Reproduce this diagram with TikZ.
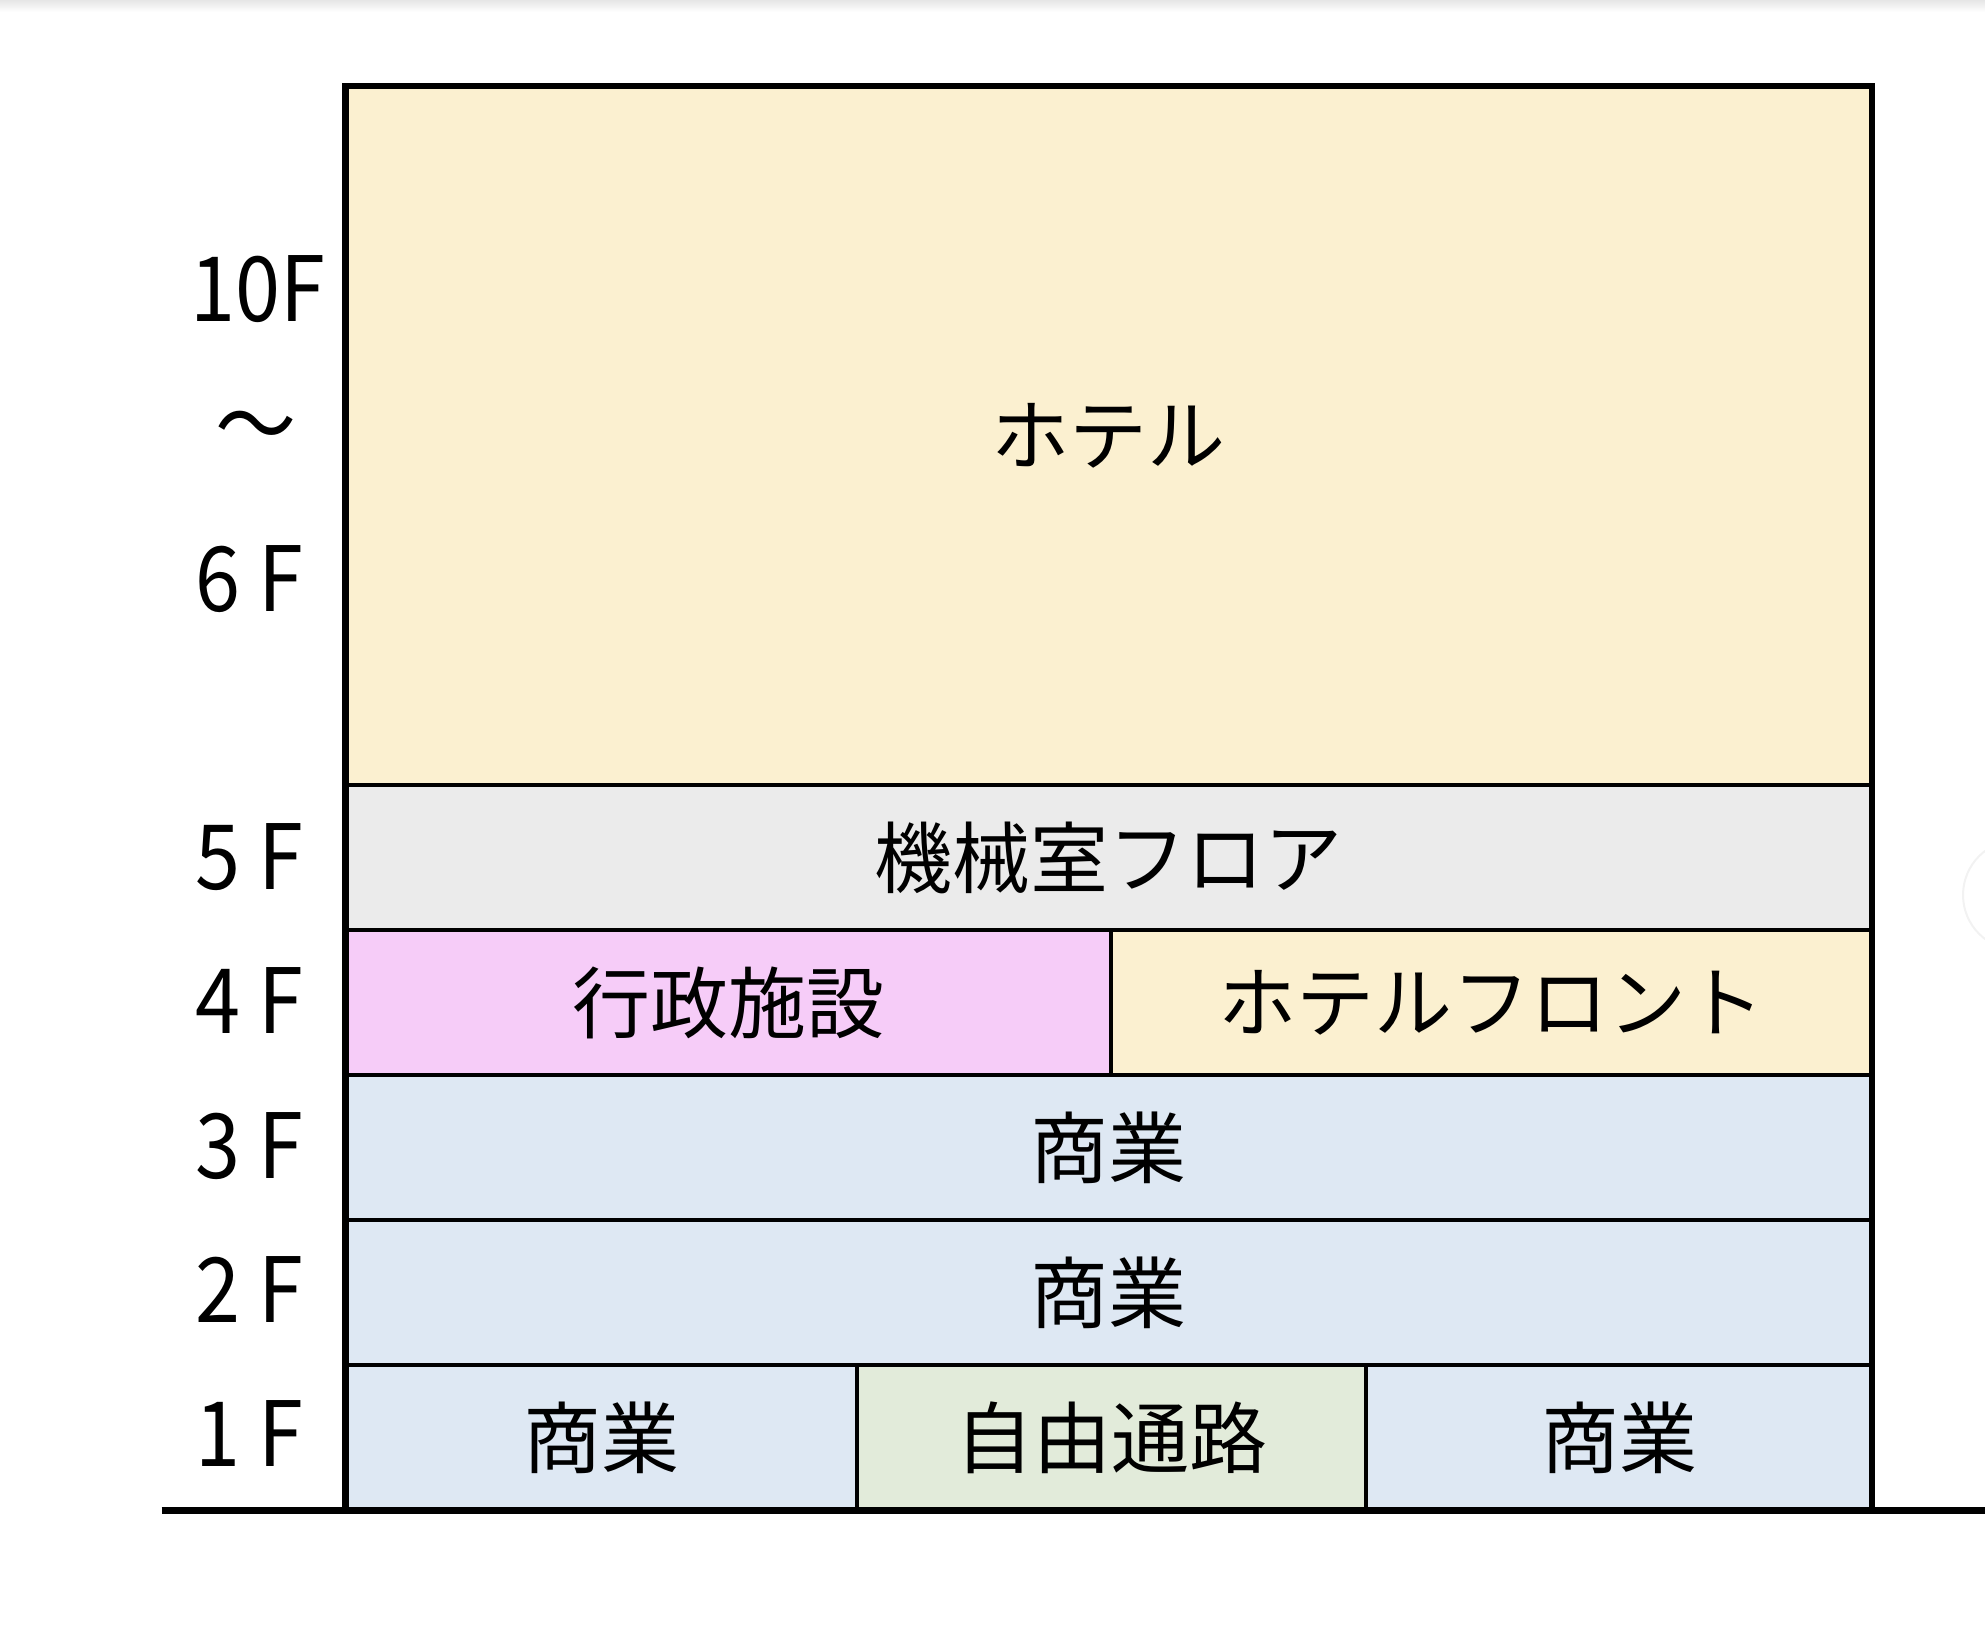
\documentclass[tikz,border=0pt]{standalone}
\usepackage{fontspec}
\setmainfont{Noto Sans CJK JP}
\definecolor{hotelcol}{HTML}{FBF0D0}
\definecolor{machcol}{HTML}{EBEBEB}
\definecolor{govcol}{HTML}{F6CCF8}
\definecolor{shopcol}{HTML}{DEE8F3}
\definecolor{passcol}{HTML}{E2EBDA}
\begin{document}
\begin{tikzpicture}[x=1bp,y=1bp,line join=miter,
  room/.style={draw=black,line width=1.75bp,rectangle,inner sep=0pt,outer sep=0pt,
    anchor=south west,font=\fontsize{39bp}{44bp}\selectfont},
  floorlabel/.style={anchor=west,inner sep=0pt,xscale=0.9,transform shape,
    font=\fontsize{45bp}{50bp}\selectfont}]
  \useasboundingbox (0bp,0bp) rectangle (992.5bp,821.5bp);
%%
  % top edge shadow
  \shade [top color=black!10,bottom color=white] (0bp,815.5bp) rectangle (992.5bp,821.5bp);
  \draw [black!5,line width=1bp] (1009bp,374bp) circle (27.5bp);
  % Node: hotel
  \node [room,fill=hotelcol,minimum width=763.2bp,minimum height=349.5bp] (hotel) at (172.8bp,429bp) {ホテル};
  % Node: mach
  \node [room,fill=machcol,minimum width=763.2bp,minimum height=72.5bp] (mach) at (172.8bp,356.5bp) {機械室フロア};
  % Node: gov
  \node [room,fill=govcol,minimum width=382.7bp,minimum height=72.5bp] (gov) at (172.8bp,284bp) {行政施設};
  % Node: front
  \node [room,fill=hotelcol,minimum width=380.5bp,minimum height=72.5bp] (front) at (555.5bp,284bp) {ホテルフロント};
  % Node: shop3
  \node [room,fill=shopcol,minimum width=763.2bp,minimum height=72.5bp] (shop3) at (172.8bp,211.5bp) {商業};
  % Node: shop2
  \node [room,fill=shopcol,minimum width=763.2bp,minimum height=72.5bp] (shop2) at (172.8bp,139bp) {商業};
  % Node: shop1w
  \node [room,fill=shopcol,minimum width=255.7bp,minimum height=72.5bp] (shop1w) at (172.8bp,66.5bp) {商業};
  % Node: passage
  \node [room,fill=passcol,minimum width=254.5bp,minimum height=72.5bp] (passage) at (428.5bp,66.5bp) {自由通路};
  % Node: shop1e
  \node [room,fill=shopcol,minimum width=253bp,minimum height=72.5bp] (shop1e) at (683bp,66.5bp) {商業};
  % outer frame and ground
  \draw [line width=3.25bp] (shop1w.south west) -- (hotel.north west) -- (hotel.north east) -- (shop1e.south east);
  \draw [line width=3.5bp] (80.75bp,66bp) -- (992.5bp,66bp);
  % floor labels
  \node [floorlabel] (f10) at (95bp,677bp) {10F};
  \node [floorlabel,anchor=center] (fwave) at (128bp,604.5bp) {〜};
  \node [floorlabel] (f6) at (97.5bp,532bp) {6\hspace{.22em}F};
  \node [floorlabel] (f5) at (97.5bp,393bp) {5\hspace{.22em}F};
  \node [floorlabel] (f4) at (97.5bp,321bp) {4\hspace{.22em}F};
  \node [floorlabel] (f3) at (97.5bp,248.5bp) {3\hspace{.22em}F};
  \node [floorlabel] (f2) at (97.5bp,176.5bp) {2\hspace{.22em}F};
  \node [floorlabel] (f1) at (97.5bp,104.5bp) {1\hspace{.22em}F};
%
\end{tikzpicture}
\end{document}
